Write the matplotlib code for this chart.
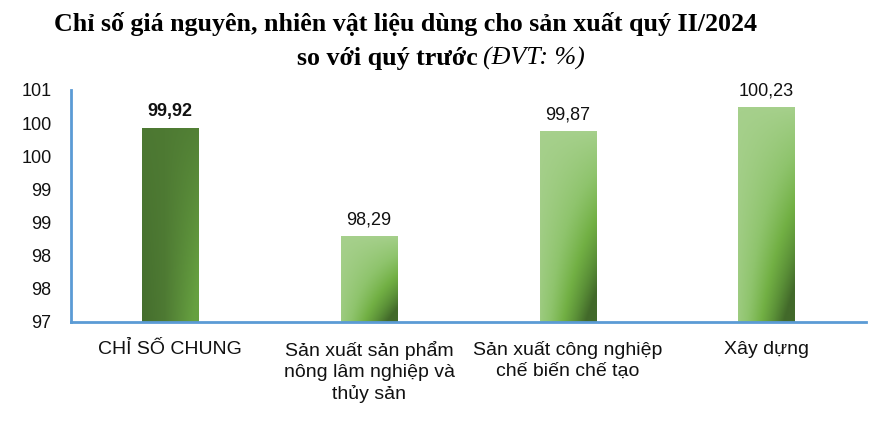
import matplotlib.pyplot as plt
import numpy as np
from matplotlib.colors import LinearSegmentedColormap

categories = [
    "CHỈ SỐ CHUNG",
    "Sản xuất sản phẩm\nnông lâm nghiệp và\nthủy sản",
    "Sản xuất công nghiệp\nchế biến chế tạo",
    "Xây dựng",
]
values = [99.92, 98.29, 99.87, 100.23]
value_labels = ["99,92", "98,29", "99,87", "100,23"]
yticks = [97, 97.5, 98, 98.5, 99, 99.5, 100, 100.5]
ytick_labels = ["97", "98", "98", "99", "99", "100", "100", "101"]

AXIS_BLUE = "#5b9bd5"
BASE = 97.0

dark_cmap = LinearSegmentedColormap.from_list("dark", ["#426b2c", "#4e7a33", "#66a040"])
light_cmap = LinearSegmentedColormap.from_list(
    "light", ["#a6d08c", "#8fc46d", "#72b044", "#5a8f37", "#42692a"]
)


def gradient(dark, n=60):
    u = np.linspace(0, 1, n)[None, :]  # left -> right
    v = np.linspace(0, 1, n * 3)[:, None]  # top -> bottom
    if dark:
        # horizontal gradient, stronger toward the bottom
        t = 0.5 + (u - 0.4) * (0.15 + 0.85 * v)
        return dark_cmap(np.clip(t, 0, 1))
    t = np.clip(0.25 * v + 0.55 * u * v ** 0.8 + 0.3 * u * v ** 3, 0, 1)
    t = t * (0.35 + 0.65 * u ** 0.6)
    return light_cmap(np.clip(t * 1.15, 0, 1))


fig = plt.figure(figsize=(8.82, 4.24), dpi=100)
ax = fig.add_axes([71 / 882, 1 - 322 / 424, (866 - 71) / 882, (322 - 90) / 424])

x = np.arange(len(categories))
width = 0.285
bars = ax.bar(x, [v - BASE for v in values], width, bottom=BASE, color="none")
for i, b in enumerate(bars):
    x0, y0 = b.get_x(), b.get_y()
    ax.imshow(
        gradient(i == 0),
        extent=(x0, x0 + b.get_width(), y0, y0 + b.get_height()),
        aspect="auto",
        interpolation="bilinear",
        zorder=2,
    )
    ax.text(
        x[i], values[i] + 0.12, value_labels[i],
        ha="center", va="bottom", fontsize=13, family="Liberation Sans",
        fontweight="bold" if i == 0 else "normal", color="#111111",
    )

ax.set_xlim(-0.5, 3.5)
ax.set_ylim(BASE, 100.5)
ax.set_yticks(yticks)
ax.set_yticklabels(ytick_labels, family="Liberation Sans", fontsize=13)
ax.set_xticks(x)
ax.set_xticklabels(categories, family="Liberation Sans", fontsize=14, linespacing=1.28)
ax.tick_params(axis="both", length=0, colors="#111111")
ax.tick_params(axis="y", pad=14)
ax.tick_params(axis="x", pad=14)
for side in ("top", "right"):
    ax.spines[side].set_visible(False)
for side in ("left", "bottom"):
    ax.spines[side].set_color(AXIS_BLUE)
    ax.spines[side].set_linewidth(2)

fig.text(405 / 882, 1 - 31 / 424, "Chỉ số giá nguyên, nhiên vật liệu dùng cho sản xuất quý II/2024",
         ha="center", va="baseline", family="Liberation Serif", fontweight="bold", fontsize=18.7)
fig.text(478 / 882, 1 - 65 / 424, "so với quý trước", ha="right", va="baseline",
         family="Liberation Serif", fontweight="bold", fontsize=18.7)
fig.text(483 / 882, 1 - 65 / 424, "(ĐVT: %)", ha="left", va="baseline",
         family="Liberation Serif", style="italic", fontsize=18.7)

fig.savefig("out.png", dpi=100)
